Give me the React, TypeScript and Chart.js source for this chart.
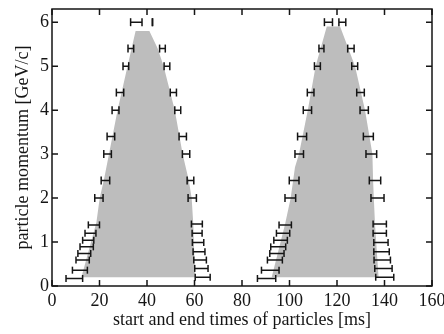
import React, { useEffect, useRef } from 'react';
import { Chart, registerables } from 'chart.js';

Chart.register(...registerables);

const FONT = '"Liberation Serif", "Times New Roman", "DejaVu Serif", serif';
const INK = '#151515';
const GRAY = '#bdbdbd';

// axis
const X_MIN = 0;
const X_MAX = 160;
const X_STEP = 20;
const Y_MIN = 0;
const Y_MAX = 6.3;
const Y_STEP = 1;
const X_TITLE = 'start and end times of particles [ms]';
const Y_TITLE = 'particle momentum [GeV/c]';

// momenta of the error bars
const P_UPPER = [6.0, 5.4, 5.0, 4.4, 4.0, 3.4, 3.0, 2.4, 2.0];
const P_LOW_START = [1.39, 1.2, 1.04, 0.89, 0.74, 0.59, 0.36, 0.17];
const P_LOW_END = [1.41, 1.2, 0.99, 0.78, 0.59, 0.4, 0.2];

// bunch 1 – start times
const S1U_LO = [33.1, 32.0, 29.9, 27.1, 25.3, 23.2, 21.8, 20.7, 18.0];
const S1U_HI = [37.9, 34.4, 32.3, 30.2, 28.2, 26.4, 25.0, 24.3, 21.5];
const S1L_LO = [15.3, 13.9, 12.9, 11.8, 10.9, 10.1, 8.6, 5.9];
const S1L_HI = [20.0, 18.5, 17.6, 17.4, 16.3, 15.7, 14.9, 12.9];
// bunch 1 – end times
const E1U_LO = [42.2, 45.3, 47.2, 49.8, 51.7, 53.5, 54.9, 56.9, 57.3];
const E1U_HI = [42.4, 47.7, 49.6, 52.4, 54.2, 56.6, 58.0, 59.7, 60.8];
const E1L_LO = [58.7, 59.0, 59.1, 59.4, 59.7, 60.1, 60.3];
const E1L_HI = [63.3, 63.2, 63.9, 64.4, 65.0, 65.7, 66.6];

// bunch 2 – start times
const S2U_LO = [114.7, 112.4, 110.5, 107.5, 105.8, 103.4, 102.3, 99.9, 98.1];
const S2U_HI = [118.1, 114.5, 113.0, 110.3, 109.3, 107.2, 105.9, 104.0, 102.6];
const S2L_LO = [95.6, 94.5, 93.4, 92.1, 91.7, 90.7, 88.2, 86.5];
const S2L_HI = [100.8, 100.1, 99.1, 98.4, 97.7, 97.0, 95.6, 94.2];
// bunch 2 – end times
const E2U_LO = [120.8, 124.5, 126.2, 128.3, 129.7, 131.1, 132.2, 133.6, 134.3];
const E2U_HI = [123.7, 127.2, 128.7, 131.5, 133.2, 135.3, 136.7, 138.4, 139.8];
const E2L_LO = [135.2, 135.2, 135.5, 135.5, 135.6, 135.9, 136.3];
const E2L_HI = [140.8, 140.8, 141.5, 142.0, 142.5, 143.2, 143.9];

// gray envelopes (momentum ascending)
const G1_START_P = [0.2, 1.45, 2.0, 2.4, 3.0, 4.0, 5.0, 5.4, 5.8];
const G1_START_T = [12.4, 18.7, 20.1, 21.8, 24.0, 27.6, 31.8, 33.5, 35.2];
const G1_END_P = [0.2, 1.4, 2.0, 2.4, 3.0, 4.0, 5.0, 5.4, 5.8];
const G1_END_T = [60.2, 59.5, 58.8, 57.6, 55.0, 51.7, 47.0, 44.5, 41.0];
const G2_START_P = [0.2, 1.4, 2.0, 2.7, 3.0, 4.0, 5.0, 5.9];
const G2_START_T = [92.5, 98.1, 100.5, 102.3, 104.0, 107.7, 111.0, 115.7];
const G2_END_P = [0.2, 1.4, 2.0, 2.4, 3.0, 4.0, 5.0, 5.9];
const G2_END_T = [137.5, 136.0, 135.5, 135.2, 134.9, 131.8, 127.6, 121.3];

type Pt = { x: number; y: number | null };

function barPoints(p: number[], lo: number[], hi: number[]): Pt[] {
  const pts: Pt[] = [];
  p.forEach((y, i) => {
    pts.push({ x: lo[i], y });
    pts.push({ x: hi[i], y });
    pts.push({ x: hi[i], y: null });
  });
  return pts;
}

function shapePoints(sp: number[], st: number[], ep: number[], et: number[]): Pt[] {
  const pts: Pt[] = [];
  sp.forEach((y, i) => pts.push({ x: st[i], y }));
  for (let i = ep.length - 1; i >= 0; i--) pts.push({ x: et[i], y: ep[i] });
  return pts;
}

function barDataset(data: Pt[], radius: number) {
  return {
    data,
    showLine: true,
    borderColor: INK,
    borderWidth: 1.5,
    pointStyle: 'line',
    rotation: 90,
    pointRotation: 90,
    pointRadius: radius,
    pointHoverRadius: radius,
    pointBorderColor: INK,
    pointBorderWidth: 1.5,
    fill: false,
    spanGaps: false,
  };
}

function shapeDataset(data: Pt[]) {
  return {
    data,
    showLine: true,
    borderWidth: 0,
    borderColor: GRAY,
    backgroundColor: GRAY,
    pointRadius: 0,
    fill: 'shape',
    tension: 0,
  };
}

const framePlugin = {
  id: 'frameTicks',
  afterDatasetsDraw(chart: any) {
    const { ctx, chartArea } = chart;
    const { left, right, top, bottom } = chartArea;
    const xs = chart.scales.x;
    const ys = chart.scales.y;
    const len = 6;
    ctx.save();
    ctx.strokeStyle = INK;
    ctx.lineWidth = 1.5;
    ctx.beginPath();
    xs.ticks.forEach((t: any) => {
      const px = xs.getPixelForValue(t.value);
      ctx.moveTo(px, bottom);
      ctx.lineTo(px, bottom - len);
      ctx.moveTo(px, top);
      ctx.lineTo(px, top + len);
    });
    ys.ticks.forEach((t: any) => {
      const py = ys.getPixelForValue(t.value);
      ctx.moveTo(left, py);
      ctx.lineTo(left + len, py);
      ctx.moveTo(right, py);
      ctx.lineTo(right - len, py);
    });
    ctx.stroke();
    ctx.strokeRect(left, top, right - left, bottom - top);
    ctx.restore();
  },
};

export default function App() {
  const ref = useRef<HTMLCanvasElement | null>(null);

  useEffect(() => {
    document.body.style.margin = '0';
    const canvas = ref.current;
    if (!canvas) return;
    const chart = new Chart(canvas, {
      type: 'scatter',
      data: {
        datasets: [
          barDataset(barPoints(P_UPPER, S1U_LO, S1U_HI), 4),
          barDataset(barPoints(P_UPPER, E1U_LO, E1U_HI), 4),
          barDataset(barPoints(P_LOW_START, S1L_LO, S1L_HI), 3.5),
          barDataset(barPoints(P_LOW_END, E1L_LO, E1L_HI), 3.5),
          barDataset(barPoints(P_UPPER, S2U_LO, S2U_HI), 4),
          barDataset(barPoints(P_UPPER, E2U_LO, E2U_HI), 4),
          barDataset(barPoints(P_LOW_START, S2L_LO, S2L_HI), 3.5),
          barDataset(barPoints(P_LOW_END, E2L_LO, E2L_HI), 3.5),
          shapeDataset(shapePoints(G1_START_P, G1_START_T, G1_END_P, G1_END_T)),
          shapeDataset(shapePoints(G2_START_P, G2_START_T, G2_END_P, G2_END_T)),
        ] as any,
      },
      options: {
        animation: false,
        responsive: false,
        events: [],
        layout: { padding: { left: 0, right: 12, top: 9, bottom: 0 } },
        plugins: {
          legend: { display: false },
          tooltip: { enabled: false },
        },
        scales: {
          x: {
            type: 'linear',
            min: X_MIN,
            max: X_MAX,
            grid: { display: false, drawTicks: false, tickLength: 0 },
            border: { display: false },
            ticks: {
              stepSize: X_STEP,
              color: INK,
              padding: 4,
              maxRotation: 0,
              font: { family: FONT, size: 18 },
            },
            title: {
              display: true,
              text: X_TITLE,
              color: INK,
              font: { family: FONT, size: 18 },
              padding: { top: 0, bottom: 3 },
            },
            afterFit: (s: any) => {
              s.height = 48;
              s.paddingLeft = 0;
              s.paddingRight = 0;
            },
          },
          y: {
            type: 'linear',
            min: Y_MIN,
            max: Y_MAX,
            grid: { display: false, drawTicks: false, tickLength: 0 },
            border: { display: false },
            ticks: {
              stepSize: Y_STEP,
              includeBounds: false,
              color: INK,
              padding: 3,
              font: { family: FONT, size: 18 },
            },
            title: {
              display: true,
              text: Y_TITLE,
              color: INK,
              font: { family: FONT, size: 18 },
              padding: { top: 12, bottom: 0 },
            },
            afterFit: (s: any) => {
              s.width = 52;
              s.paddingTop = 0;
              s.paddingBottom = 0;
            },
          },
        },
      } as any,
      plugins: [framePlugin],
    });
    return () => chart.destroy();
  }, []);

  return (
    <div style={{ width: 444, height: 334 }}>
      <canvas ref={ref} width={444} height={334} />
    </div>
  );
}
